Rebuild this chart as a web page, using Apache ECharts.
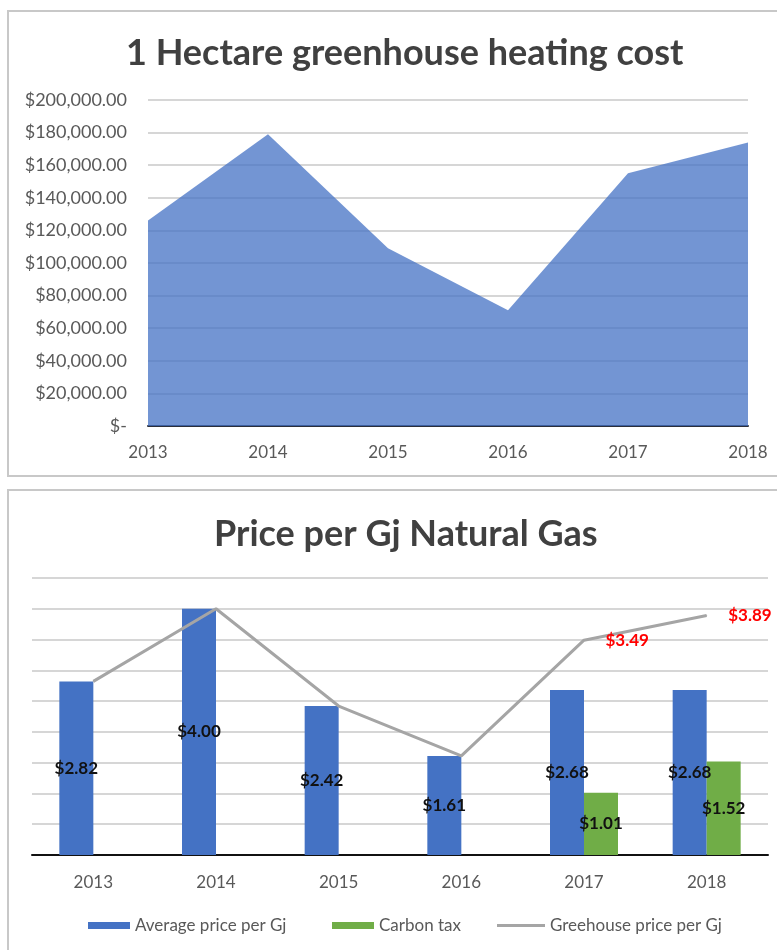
<!DOCTYPE html>
<html>
<head>
<meta charset="utf-8">
<script src="https://cdn.jsdelivr.net/npm/echarts@6/dist/echarts.min.js"></script>
<style>
  body { margin: 0; background: #fff; width: 777px; height: 950px; overflow: hidden; position: relative; }
  .chart { position: absolute; left: 0; width: 777px; }
  .box { position: absolute; border: 2px solid #c8c8c8; pointer-events: none; box-sizing: border-box; }
</style>
</head>
<body>
<div id="c1" class="chart" style="top:0;height:480px"></div>
<div id="c2" class="chart" style="top:480px;height:470px"></div>
<div class="box" style="left:7px;top:10px;width:800px;height:467px"></div>
<div class="box" style="left:7px;top:489px;width:800px;height:500px"></div>
<script>
// data
const years = ["2013", "2014", "2015", "2016", "2017", "2018"]
const heatingCost = [126000, 179000, 109000, 71000, 155000, 174000]
const avgPrice = [2.82, 4.00, 2.42, 1.61, 2.68, 2.68]
const carbonTax = [null, null, null, null, 1.01, 1.52]
const greenhousePrice = [2.82, 4.00, 2.42, 1.61, 3.49, 3.89]
const redLabelYears = ["2017", "2018"]

const FONT = "Lato"
const GREY = "#595959"

function money(v) {
  if (v === 0) return "$-"
  return "$" + v.toLocaleString("en-US", { minimumFractionDigits: 2, maximumFractionDigits: 2 })
}

// top chart: area
const chart1 = echarts.init(document.getElementById("c1"))
chart1.setOption({
  animation: false,
  textStyle: { fontFamily: FONT },
  title: {
    text: "1 Hectare greenhouse heating cost",
    left: 121,
    top: 30,
    textStyle: { fontSize: 36, fontWeight: "bold", color: "#404040", fontFamily: FONT }
  },
  grid: { left: 148, right: 29, top: 100, bottom: 54 },
  xAxis: {
    type: "category",
    data: years,
    boundaryGap: false,
    axisLine: { lineStyle: { color: "#2b2f3a", width: 2 } },
    axisTick: { show: false },
    axisLabel: { color: GREY, fontSize: 17, margin: 18 }
  },
  yAxis: {
    type: "value",
    min: 0,
    max: 200000,
    interval: 20000,
    axisLine: { show: false },
    axisTick: { show: false },
    splitLine: { lineStyle: { color: "#d6d6d6", width: 2 } },
    axisLabel: { color: GREY, fontSize: 18, margin: 21, formatter: money }
  },
  series: [
    {
      type: "line",
      data: heatingCost,
      symbol: "none",
      lineStyle: { width: 0 },
      areaStyle: { color: "#4472C4", opacity: 0.75 }
    }
  ]
})

// bottom chart: bars + line
const chart2 = echarts.init(document.getElementById("c2"))
const legendBase = {
  top: 432,
  itemWidth: 42,
  itemHeight: 7,
  itemGap: 0,
  textStyle: { color: GREY, fontSize: 17, fontFamily: FONT }
}
chart2.setOption({
  animation: false,
  textStyle: { fontFamily: FONT },
  title: {
    text: "Price per Gj Natural Gas",
    left: 209,
    top: 31,
    textStyle: { fontSize: 36, fontWeight: "bold", color: "#404040", fontFamily: FONT }
  },
  legend: [
    Object.assign({}, legendBase, { left: 83, data: [{ name: "Average price per Gj", icon: "rect" }] }),
    Object.assign({}, legendBase, { left: 327, data: [{ name: "Carbon tax", icon: "rect" }] }),
    Object.assign({}, legendBase, {
      left: 492,
      itemWidth: 48,
      data: [{ name: "Greehouse price per Gj", icon: "path://M0,0H48V3H0Z" }]
    })
  ],
  grid: { left: 32, right: 9, top: 98, bottom: 95 },
  xAxis: {
    type: "category",
    data: years,
    axisLine: { lineStyle: { color: "#111", width: 2 } },
    axisTick: { show: false },
    axisLabel: { color: GREY, fontSize: 17, margin: 19 }
  },
  yAxis: {
    type: "value",
    min: 0,
    max: 4.5,
    interval: 0.5,
    axisLine: { show: false },
    axisTick: { show: false },
    axisLabel: { show: false },
    splitLine: { lineStyle: { color: "#d6d6d6", width: 2 } }
  },
  series: [
    {
      name: "Average price per Gj",
      type: "bar",
      data: avgPrice,
      barWidth: 34,
      barGap: "0%",
      itemStyle: { color: "#4472C4" },
      label: {
        show: true,
        position: "inside",
        color: "#111",
        fontWeight: "bold",
        fontSize: 17,
        formatter: p => "$" + p.value.toFixed(2)
      }
    },
    {
      name: "Carbon tax",
      type: "bar",
      data: carbonTax,
      barWidth: 34,
      barGap: "0%",
      itemStyle: { color: "#70AD47" },
      label: {
        show: true,
        position: "inside",
        color: "#111",
        fontWeight: "bold",
        fontSize: 17,
        formatter: p => "$" + p.value.toFixed(2)
      }
    },
    {
      name: "Greehouse price per Gj",
      type: "line",
      data: greenhousePrice.map((v, i) => ({
        value: v,
        label: { show: redLabelYears.includes(years[i]) }
      })),
      symbol: "circle",
      symbolSize: 1,
      itemStyle: { color: "#A5A5A5" },
      lineStyle: { color: "#A5A5A5", width: 3 },
      label: {
        position: "right",
        distance: 21,
        color: "#ff0000",
        fontWeight: "bold",
        fontSize: 17,
        formatter: p => "$" + p.value.toFixed(2)
      }
    }
  ]
})
</script>
</body>
</html>
